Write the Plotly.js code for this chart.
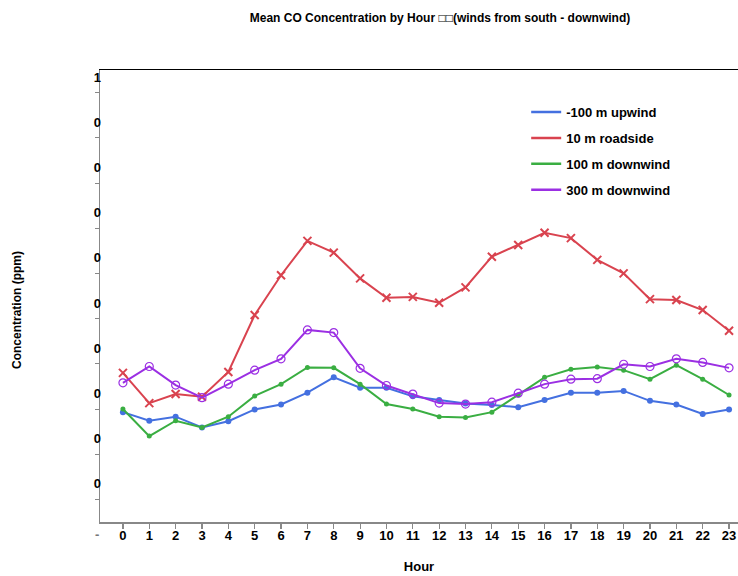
<!DOCTYPE html>
<html>
<head>
<meta charset="utf-8">
<script src="https://cdn.plot.ly/plotly-3.0.1.min.js"></script>
<style>
  html, body { margin: 0; padding: 0; overflow: hidden; background: #fff; }
  #chart { width: 738px; height: 576px; }
</style>
</head>
<body>
<div id="chart"></div>
<script>
const hours = [0,1,2,3,4,5,6,7,8,9,10,11,12,13,14,15,16,17,18,19,20,21,22,23];
const hourLabels = hours.map(String);

const seriesNames = ["-100 m upwind", "10 m roadside", "100 m downwind", "300 m downwind"];

const upwind100 = [0.243,0.224,0.233,0.209,0.223,0.249,0.260,0.286,0.320,0.297,0.297,0.278,
                   0.270,0.262,0.259,0.254,0.270,0.286,0.286,0.290,0.268,0.260,0.239,0.249];
const roadside10 = [0.330,0.263,0.283,0.277,0.332,0.458,0.546,0.622,0.596,0.539,0.496,0.498,
                    0.485,0.519,0.587,0.613,0.640,0.628,0.580,0.550,0.493,0.491,0.469,0.423];
const downwind100 = [0.250,0.190,0.224,0.209,0.233,0.279,0.305,0.342,0.341,0.305,0.261,0.250,
                     0.233,0.231,0.243,0.281,0.320,0.338,0.343,0.336,0.316,0.347,0.316,0.281];
const downwind300 = [0.308,0.344,0.303,0.275,0.305,0.336,0.361,0.425,0.419,0.340,0.302,0.283,
                     0.263,0.261,0.265,0.285,0.305,0.316,0.317,0.349,0.344,0.361,0.353,0.341];

const yTickVals = [0.1,0.2,0.3,0.4,0.5,0.6,0.7,0.8,0.9,1.0];
const yTickText = ["0","0","0","0","0","0","0","0","0","1"];

const colors = ["#4470e0", "#d9434f", "#3aae42", "#9b2fe3"];
const seriesData = [upwind100, roadside10, downwind100, downwind300];
const markers = [
  {symbol: "circle", size: 6, color: colors[0]},
  {symbol: "x-thin", size: 8, color: colors[1], line: {color: colors[1], width: 2}},
  {symbol: "circle", size: 5, color: colors[2]},
  {symbol: "circle-open", size: 8, color: colors[3], line: {color: colors[3], width: 1.2}}
];

const FONT = "Liberation Sans, Arial, sans-serif";
const traces = [];
seriesData.forEach((vals, i) => {
  traces.push({
    x: hours, y: vals, type: "scatter", mode: "lines+markers",
    name: seriesNames[i], showlegend: false,
    line: {color: colors[i], width: 2},
    marker: markers[i],
    hoverinfo: "x+y"
  });
});
// legend entries (lines only), on the top overlay axis
seriesData.forEach((vals, i) => {
  traces.push({
    x: [null], y: [null], type: "scatter", mode: "lines",
    name: seriesNames[i], legendgroup: "g" + i,
    line: {color: colors[i], width: 2.5},
    xaxis: "x2"
  });
});

const layout = {
  width: 738, height: 576,
  paper_bgcolor: "#fff", plot_bgcolor: "#fff",
  margin: {l: 100, r: 0, t: 70, b: 54},
  font: {family: FONT, size: 13, color: "#000", weight: "bold"},
  title: {
    text: "Mean CO Concentration by Hour \u25A1\u25A1(winds from south - downwind)",
    font: {family: FONT, size: 12, color: "#000", weight: "bold"},
    x: 440/738, xref: "container", xanchor: "center",
    y: 1 - 18/576, yref: "container", yanchor: "middle"
  },
  xaxis: {
    range: [-0.87, 23.34],
    tickmode: "array", tickvals: hours, ticktext: hourLabels,
    showgrid: false, zeroline: false,
    showline: true, linecolor: "#888", linewidth: 1.5,
    ticks: "outside", ticklen: 5, tickcolor: "#888", tickwidth: 1.2,
    ticklabelstandoff: -4,
    tickfont: {family: FONT, size: 13, color: "#000", weight: "bold"},
    title: {text: "Hour", standoff: 20, font: {family: FONT, size: 13, color: "#000", weight: "bold"}}
  },
  xaxis2: {
    overlaying: "x", side: "top", range: [-0.87, 23.34],
    showline: true, linecolor: "#000", linewidth: 1.5,
    showticklabels: false, ticks: "", showgrid: false, zeroline: false
  },
  yaxis: {
    range: [0, 1],
    tickmode: "array", tickvals: yTickVals, ticktext: yTickText,
    showgrid: false, zeroline: false,
    showline: true, linecolor: "#888", linewidth: 1.5,
    ticks: "outside", ticklen: 0, tickcolor: "#888",
    ticklabelshift: 7, ticklabelstandoff: -5,
    minor: {tickmode: "linear", tick0: 0.05, dtick: 0.1, ticks: "outside", ticklen: 4, tickcolor: "#888", tickwidth: 1},
    tickfont: {family: FONT, size: 13, color: "#000", weight: "bold"}
  },
  showlegend: true,
  legend: {
    x: 0.668, xanchor: "left", y: 0.940, yanchor: "top",
    bgcolor: "rgba(0,0,0,0)", borderwidth: 0,
    tracegroupgap: 6,
    font: {family: FONT, size: 13, color: "#000", weight: "bold"}
  },
  annotations: [
    {text: "Concentration (ppm)", textangle: -90,
     xref: "paper", x: -83/638, xanchor: "center",
     yref: "paper", y: (522 - 310)/452, yanchor: "middle",
     showarrow: false, font: {family: FONT, size: 12, color: "#000", weight: "bold"}},
    {text: "-", xref: "paper", x: -3/638, xanchor: "center",
     yref: "paper", y: 0, yanchor: "top", yshift: -3,
     showarrow: false, font: {family: FONT, size: 13, color: "#777", weight: "bold"}}
  ]
};

Plotly.newPlot("chart", traces, layout, {displayModeBar: false, staticPlot: true});
</script>
</body>
</html>
